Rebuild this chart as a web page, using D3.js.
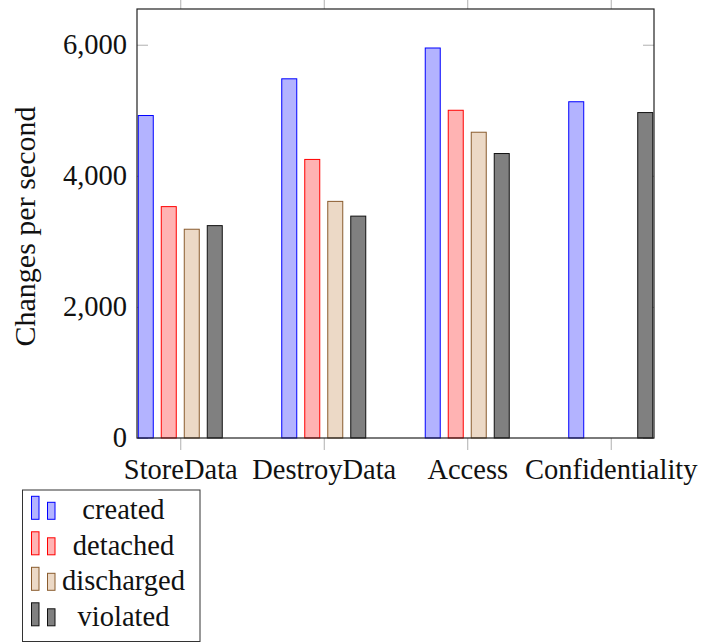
<!DOCTYPE html>
<html>
<head>
<meta charset="utf-8">
<script src="https://cdn.jsdelivr.net/npm/d3@7"></script>
<style>
  html, body { margin: 0; padding: 0; background: #fff; }
  svg { display: block; }
  text { font-family: "Liberation Serif", "Times New Roman", serif; fill: #111; }
</style>
</head>
<body>
<svg id="chart" width="727" height="643"></svg>
<script>
// ---- data ----
const categories = ["StoreData", "DestroyData", "Access", "Confidentiality"];
const seriesNames = ["created", "detached", "discharged", "violated"];
const created    = [4920, 5480, 5950, 5130];
const detached   = [3530, 4250, 5000, null];
const discharged = [3185, 3610, 4665, null];
const violated   = [3240, 3385, 4340, 4965];
const yTicks = [0, 2000, 4000, 6000];
const yMax = 6545;

// ---- styles ----
const fills   = ["#b3b3ff", "#ffb3b3", "#ecd9c6", "#808080"];
const strokes = ["#0000ff", "#ff0000", "#8a5c2e", "#111111"];
const seriesValues = [created, detached, discharged, violated];

const svg = d3.select("#chart");
const L = 137, R = 654, T = 9, B = 438;
const fs = 28.5;

const x = d3.scalePoint().domain(categories).range([L, R]).padding(0.3015);
const xs = d3.scalePoint().domain(seriesNames).range([-34.5, 34.5]);
const y = d3.scaleLinear().domain([0, yMax]).range([B, T]);
const barW = 15;

const tickColor = "#b0b0b0";

// inner y ticks (left and right)
const gyl = svg.append("g").attr("transform", `translate(${L},0)`)
  .call(d3.axisRight(y).tickValues(yTicks).tickSize(11).tickFormat(""));
const gyr = svg.append("g").attr("transform", `translate(${R},0)`)
  .call(d3.axisLeft(y).tickValues(yTicks).tickSize(11).tickFormat(""));
// outer x ticks (bottom and top)
const gxb = svg.append("g").attr("transform", `translate(0,${B})`)
  .call(d3.axisBottom(x).tickSize(12).tickFormat(""));
const gxt = svg.append("g").attr("transform", `translate(0,${T})`)
  .call(d3.axisTop(x).tickSize(9).tickFormat(""));
[gyl, gyr, gxb, gxt].forEach(g => {
  g.select(".domain").remove();
  g.selectAll(".tick line").attr("stroke", tickColor).attr("stroke-width", 1);
});

// bars
const barData = [];
seriesNames.forEach((s, si) => {
  categories.forEach((c, ci) => {
    const v = seriesValues[si][ci];
    if (v != null) barData.push({ s, si, c, v });
  });
});
svg.append("g").selectAll("rect").data(barData).join("rect")
  .attr("x", d => x(d.c) + xs(d.s) - barW / 2)
  .attr("y", d => y(d.v))
  .attr("width", barW)
  .attr("height", d => B - y(d.v))
  .attr("fill", d => fills[d.si])
  .attr("stroke", d => strokes[d.si])
  .attr("stroke-width", 1);

// frame
svg.append("rect").attr("x", L).attr("y", T).attr("width", R - L).attr("height", B - T)
  .attr("fill", "none").attr("stroke", "#222").attr("stroke-width", 1.2);

// y tick labels
const gyLab = svg.append("g").attr("transform", `translate(${L},0)`)
  .call(d3.axisLeft(y).tickValues(yTicks).tickSize(0).tickPadding(10).tickFormat(d3.format(",")));
gyLab.select(".domain").remove();
gyLab.selectAll("text").attr("font-size", fs).attr("font-family", "Liberation Serif")
  .attr("dy", "0.3em").attr("fill", "#111");

// x tick labels
const gxLab = svg.append("g").attr("transform", `translate(0,${B})`)
  .call(d3.axisBottom(x).tickSize(0).tickPadding(0));
gxLab.select(".domain").remove();
gxLab.selectAll("text").attr("font-size", fs).attr("font-family", "Liberation Serif")
  .attr("y", 41.3).attr("dy", 0).attr("fill", "#111");

// y axis title
svg.append("text")
  .attr("transform", `translate(34.5,${(T + B) / 2 + 3}) rotate(-90)`)
  .attr("text-anchor", "middle").attr("font-size", 30)
  .text("Changes per second");

// legend
const lg = svg.append("g");
lg.append("rect").attr("x", 22.5).attr("y", 490).attr("width", 177.5).attr("height", 151.5)
  .attr("fill", "#fff").attr("stroke", "#333").attr("stroke-width", 1);
seriesNames.forEach((s, i) => {
  const b = 519.3 + i * 35.5;
  lg.append("rect").attr("x", 31.5).attr("y", b - 23).attr("width", 7.5).attr("height", 23)
    .attr("fill", fills[i]).attr("stroke", strokes[i]).attr("stroke-width", 1);
  lg.append("rect").attr("x", 47.5).attr("y", b - 17).attr("width", 7.5).attr("height", 17)
    .attr("fill", fills[i]).attr("stroke", strokes[i]).attr("stroke-width", 1);
  lg.append("text").attr("x", 123.5).attr("y", b).attr("text-anchor", "middle")
    .attr("font-size", fs).text(s);
});
</script>
</body>
</html>
